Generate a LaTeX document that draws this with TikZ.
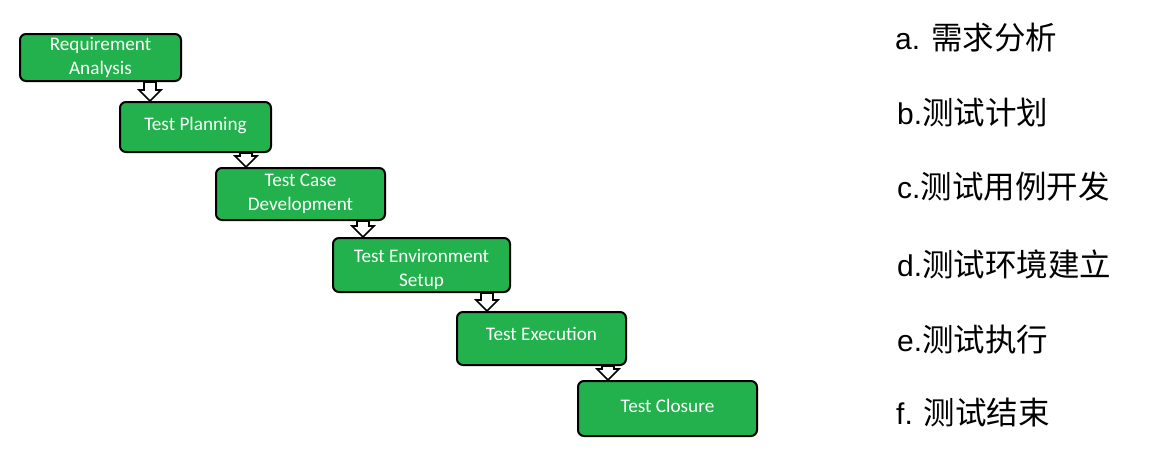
\documentclass[tikz,border=0pt]{standalone}
\usepackage{fontspec}
\setmainfont{Carlito}
\newfontfamily\arialf{Liberation Sans}
\newfontfamily\cjkf{Noto Sans CJK SC}
\usetikzlibrary{calc}
\definecolor{boxgreen}{HTML}{22B14C}
\tikzset{
  stagebox/.style={draw=black, line width=2pt, fill=boxgreen, rounded corners=6pt,
    text=white, align=center, font=\fontsize{19.2}{24}\selectfont, inner sep=0pt},
  blockarr/.style={draw=black, line width=1.6pt, fill=white, line join=miter},
  legend/.style={anchor=west, inner sep=0pt, font=\fontsize{30}{34}\selectfont}
}
\newcommand\cjkt[1]{{\fontsize{31.5}{34}\selectfont\cjkf #1}}
\newcommand\lift[2]{\raisebox{#1}[\height][\depth]{#2}}
\newcommand\blockarrow[2]{%
  \draw[blockarr] let \p1=(#1.south), \p2=($(#2.north west)+(31,0)$) in
    (\x2-6pt,\y1) -- (\x2+6pt,\y1) -- (\x2+6pt,\y2+11pt) -- (\x2+11pt,\y2+11pt)
    -- (\x2,\y2) -- (\x2-11pt,\y2+11pt) -- (\x2-6pt,\y2+11pt) -- cycle;}
\begin{document}
\begin{tikzpicture}[x=1pt,y=-1pt]
\useasboundingbox (0,0) rectangle (1154,455);
\node[stagebox, minimum width=161pt, minimum height=47pt] (s1) at (100.5,57.5) {Requirement\\Analysis};
\node[stagebox, minimum width=151pt, minimum height=50pt] (s2) at (195.5,127) {\lift{2pt}{Test Planning}};
\node[stagebox, minimum width=169pt, minimum height=52pt] (s3) at (300.5,194) {Test Case\\Development};
\node[stagebox, minimum width=177pt, minimum height=54pt] (s4) at (421.5,265) {\lift{-4pt}{Test Environment}\\\lift{-4pt}{Setup}};
\node[stagebox, minimum width=169pt, minimum height=53pt] (s5) at (541.5,338.5) {\lift{5pt}{Test Execution}};
\node[stagebox, minimum width=179pt, minimum height=55pt] (s6) at (667.5,408.5) {\lift{3pt}{Test Closure}};
\blockarrow{s1}{s2}
\blockarrow{s2}{s3}
\blockarrow{s3}{s4}
\blockarrow{s4}{s5}
\blockarrow{s5}{s6}
\node[legend] (l1) at (895,38) {\arialf a. \cjkt{需求分析}};
\node[legend] (l2) at (897,113) {\arialf b.\cjkt{测试计划}};
\node[legend] (l3) at (897,187) {\arialf c.\cjkt{测试用例开发}};
\node[legend] (l4) at (897,264) {\arialf d.\cjkt{测试环境建立}};
\node[legend] (l5) at (897,340) {\arialf e.\cjkt{测试执行}};
\node[legend] (l6) at (896,413) {\arialf f. \cjkt{测试结束}};
\end{tikzpicture}
\end{document}
